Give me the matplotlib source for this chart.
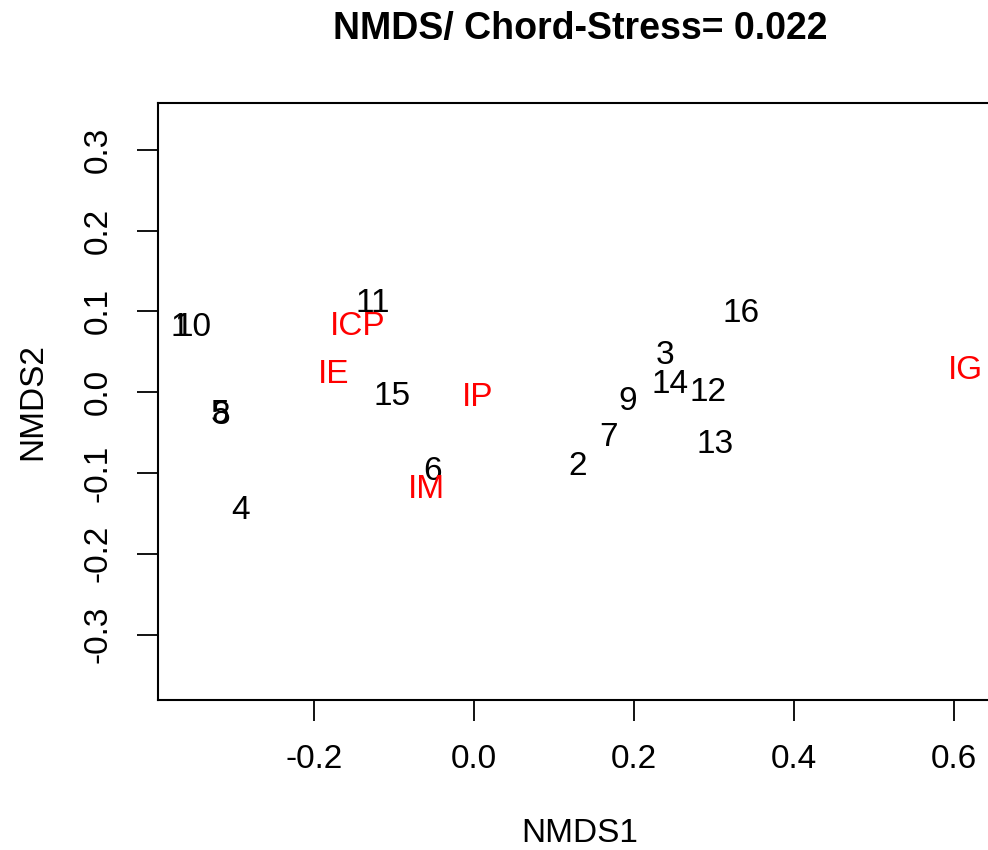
import matplotlib.pyplot as plt

# site scores (NMDS1, NMDS2), labels drawn as text
site_labels = ['1', '2', '3', '4', '5', '6', '7', '8', '9', '10',
               '11', '12', '13', '14', '15', '16']
site_x = [-0.3675, 0.130, 0.239, -0.292, -0.317, -0.052, 0.168, -0.316, 0.192, -0.351,
          -0.127, 0.292, 0.302, 0.245, -0.102, 0.334]
site_y = [0.080, -0.092, 0.045, -0.146, -0.028, -0.098, -0.056, -0.029, -0.011, 0.080,
          0.110, 0.000, -0.065, 0.010, -0.005, 0.097]

# species scores
spec_labels = ['ICP', 'IE', 'IP', 'IM', 'IG']
spec_x = [-0.145, -0.175, 0.005, -0.060, 0.614]
spec_y = [0.081, 0.0215, -0.007, -0.121, 0.0265]

xticks = [-0.2, 0.0, 0.2, 0.4, 0.6]
yticks = [-0.3, -0.2, -0.1, 0.0, 0.1, 0.2, 0.3]

plt.rcParams['font.family'] = ['Liberation Sans', 'DejaVu Sans']

fig = plt.figure(figsize=(9.88, 8.5), dpi=100)
# right edge of the plot box is cut off in the original, so the axes run past the figure
ax = fig.add_axes([0.160, 0.1765, 0.854, 0.7023])

for lab, x, y in zip(site_labels, site_x, site_y):
    ax.text(x, y, lab, ha='center', va='center', fontsize=24, color='black')
for lab, x, y in zip(spec_labels, spec_x, spec_y):
    ax.text(x, y, lab, ha='center', va='center', fontsize=24, color='#ff0000')

ax.set_xlim(-0.395, 0.66)
ax.set_ylim(-0.381, 0.358)
ax.set_xticks(xticks)
ax.set_xticklabels(['%.1f' % v for v in xticks])
ax.set_yticks(yticks)
ax.set_yticklabels(['%.1f' % v for v in yticks], rotation=90, va='center')
ax.tick_params(direction='out', length=15, width=1.3, labelsize=24, pad=17)
for s in ax.spines.values():
    s.set_linewidth(1.5)

ax.set_xlabel('NMDS1', fontsize=24, labelpad=31)
ax.set_ylabel('NMDS2', fontsize=24, labelpad=25)
ax.set_title('NMDS/ Chord-Stress= 0.022', fontsize=27, fontweight='bold', pad=46)

plt.savefig('out.png', dpi=100)
